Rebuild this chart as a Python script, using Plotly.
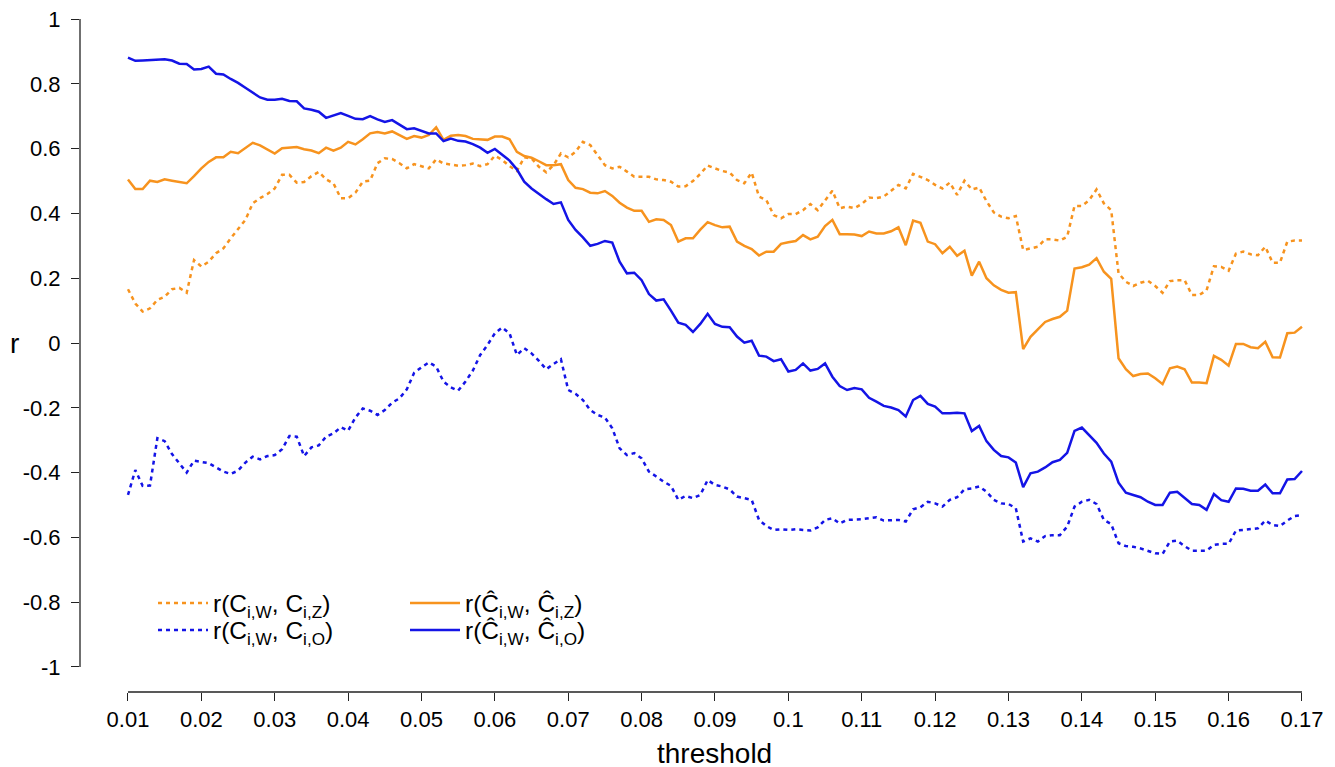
import numpy as np
import plotly.graph_objects as go

threshold = [round(0.010 + 0.001 * i, 3) for i in range(161)]

r_hat_wz = [
    0.505, 0.475, 0.475, 0.501, 0.497, 0.505, 0.501, 0.497, 0.493, 0.515,
    0.539, 0.559, 0.573, 0.573, 0.590, 0.586, 0.601, 0.618, 0.610, 0.598,
    0.585, 0.601, 0.603, 0.605, 0.598, 0.594, 0.586, 0.603, 0.594, 0.603,
    0.621, 0.613, 0.629, 0.647, 0.651, 0.647, 0.653, 0.642, 0.630, 0.639,
    0.634, 0.642, 0.666, 0.627, 0.640, 0.642, 0.639, 0.630, 0.629, 0.627,
    0.637, 0.637, 0.629, 0.590, 0.577, 0.572, 0.561, 0.549, 0.549, 0.552,
    0.503, 0.479, 0.475, 0.464, 0.462, 0.469, 0.454, 0.433, 0.418, 0.408,
    0.408, 0.374, 0.382, 0.380, 0.364, 0.313, 0.323, 0.323, 0.350, 0.373,
    0.364, 0.357, 0.359, 0.313, 0.300, 0.290, 0.270, 0.282, 0.282, 0.306,
    0.311, 0.315, 0.333, 0.320, 0.328, 0.361, 0.380, 0.336, 0.336, 0.335,
    0.330, 0.344, 0.338, 0.338, 0.345, 0.357, 0.302, 0.378, 0.371, 0.313,
    0.305, 0.277, 0.297, 0.269, 0.285, 0.208, 0.251, 0.200, 0.178, 0.164,
    0.155, 0.157, -0.019, 0.019, 0.042, 0.065, 0.074, 0.081, 0.100, 0.230,
    0.234, 0.242, 0.262, 0.220, 0.198, -0.047, -0.081, -0.102, -0.096, -0.094,
    -0.109, -0.127, -0.078, -0.073, -0.081, -0.122, -0.122, -0.124, -0.040, -0.052,
    -0.070, -0.003, -0.003, -0.013, -0.016, 0.004, -0.044, -0.045, 0.030, 0.032,
    0.050,
]

r_wz = [
    0.166, 0.122, 0.097, 0.107, 0.133, 0.143, 0.166, 0.170, 0.155, 0.256,
    0.236, 0.251, 0.277, 0.292, 0.323, 0.351, 0.380, 0.431, 0.447, 0.460,
    0.477, 0.519, 0.519, 0.495, 0.497, 0.515, 0.528, 0.505, 0.493, 0.447,
    0.447, 0.464, 0.498, 0.501, 0.555, 0.570, 0.568, 0.555, 0.539, 0.552,
    0.545, 0.539, 0.567, 0.554, 0.551, 0.547, 0.549, 0.554, 0.546, 0.552,
    0.578, 0.565, 0.546, 0.531, 0.573, 0.570, 0.544, 0.527, 0.549, 0.585,
    0.573, 0.590, 0.621, 0.611, 0.580, 0.549, 0.539, 0.544, 0.529, 0.513,
    0.513, 0.513, 0.505, 0.503, 0.498, 0.483, 0.484, 0.500, 0.522, 0.548,
    0.539, 0.531, 0.526, 0.503, 0.493, 0.526, 0.452, 0.441, 0.395, 0.385,
    0.398, 0.398, 0.410, 0.429, 0.410, 0.441, 0.470, 0.416, 0.421, 0.416,
    0.429, 0.449, 0.447, 0.452, 0.470, 0.488, 0.477, 0.522, 0.513, 0.503,
    0.488, 0.477, 0.495, 0.457, 0.501, 0.474, 0.480, 0.438, 0.403, 0.390,
    0.385, 0.392, 0.287, 0.292, 0.297, 0.320, 0.320, 0.316, 0.328, 0.423,
    0.423, 0.441, 0.474, 0.431, 0.410, 0.215, 0.189, 0.176, 0.186, 0.192,
    0.176, 0.155, 0.191, 0.194, 0.194, 0.148, 0.148, 0.163, 0.237, 0.235,
    0.223, 0.276, 0.282, 0.274, 0.271, 0.297, 0.248, 0.248, 0.313, 0.316,
    0.316,
]

r_wo = [
    -0.469, -0.392, -0.441, -0.440, -0.294, -0.303, -0.343, -0.371, -0.400, -0.363,
    -0.368, -0.371, -0.384, -0.397, -0.404, -0.394, -0.369, -0.351, -0.359, -0.349,
    -0.346, -0.328, -0.287, -0.289, -0.349, -0.322, -0.316, -0.289, -0.279, -0.260,
    -0.271, -0.230, -0.202, -0.209, -0.222, -0.207, -0.184, -0.171, -0.143, -0.092,
    -0.075, -0.060, -0.073, -0.119, -0.137, -0.147, -0.119, -0.085, -0.037, -0.006,
    0.030, 0.048, 0.030, -0.037, -0.016, -0.032, -0.055, -0.081, -0.065, -0.050,
    -0.145, -0.157, -0.176, -0.207, -0.222, -0.230, -0.263, -0.325, -0.346, -0.340,
    -0.356, -0.397, -0.412, -0.428, -0.441, -0.484, -0.472, -0.479, -0.469, -0.423,
    -0.438, -0.443, -0.452, -0.474, -0.479, -0.484, -0.546, -0.565, -0.577, -0.575,
    -0.577, -0.575, -0.577, -0.579, -0.569, -0.546, -0.541, -0.557, -0.546, -0.546,
    -0.544, -0.541, -0.538, -0.548, -0.548, -0.546, -0.551, -0.513, -0.507, -0.490,
    -0.495, -0.505, -0.484, -0.476, -0.452, -0.449, -0.443, -0.459, -0.484, -0.495,
    -0.497, -0.510, -0.613, -0.603, -0.613, -0.596, -0.593, -0.593, -0.567, -0.505,
    -0.490, -0.484, -0.497, -0.546, -0.559, -0.618, -0.627, -0.629, -0.634, -0.641,
    -0.649, -0.651, -0.613, -0.610, -0.627, -0.641, -0.641, -0.641, -0.623, -0.620,
    -0.620, -0.579, -0.577, -0.575, -0.572, -0.548, -0.562, -0.565, -0.548, -0.534,
    -0.531,
]

r_hat_wo = [
    0.881, 0.871, 0.872, 0.873, 0.875, 0.876, 0.872, 0.862, 0.861, 0.844,
    0.846, 0.853, 0.831, 0.829, 0.815, 0.803, 0.788, 0.773, 0.758, 0.751,
    0.751, 0.754, 0.747, 0.746, 0.724, 0.720, 0.714, 0.695, 0.703, 0.710,
    0.701, 0.692, 0.691, 0.700, 0.690, 0.682, 0.688, 0.673, 0.660, 0.663,
    0.654, 0.647, 0.647, 0.623, 0.631, 0.624, 0.622, 0.614, 0.603, 0.587,
    0.599, 0.582, 0.563, 0.536, 0.498, 0.477, 0.460, 0.444, 0.429, 0.434,
    0.380, 0.349, 0.326, 0.300, 0.306, 0.315, 0.310, 0.251, 0.215, 0.217,
    0.194, 0.151, 0.131, 0.135, 0.100, 0.063, 0.056, 0.034, 0.059, 0.090,
    0.059, 0.050, 0.049, 0.020, 0.001, 0.007, -0.039, -0.042, -0.056, -0.050,
    -0.088, -0.083, -0.063, -0.085, -0.080, -0.063, -0.104, -0.133, -0.145, -0.139,
    -0.143, -0.169, -0.181, -0.194, -0.199, -0.207, -0.227, -0.176, -0.163, -0.188,
    -0.196, -0.217, -0.217, -0.215, -0.217, -0.272, -0.256, -0.303, -0.330, -0.349,
    -0.353, -0.369, -0.445, -0.402, -0.397, -0.384, -0.368, -0.361, -0.339, -0.271,
    -0.261, -0.284, -0.308, -0.341, -0.366, -0.431, -0.462, -0.469, -0.476, -0.490,
    -0.500, -0.500, -0.462, -0.459, -0.479, -0.497, -0.500, -0.515, -0.466, -0.485,
    -0.490, -0.449, -0.450, -0.456, -0.456, -0.437, -0.464, -0.464, -0.421, -0.420,
    -0.395,
]

x_ticks = [0.01, 0.02, 0.03, 0.04, 0.05, 0.06, 0.07, 0.08, 0.09, 0.10,
           0.11, 0.12, 0.13, 0.14, 0.15, 0.16, 0.17]
x_tick_labels = ["0.01", "0.02", "0.03", "0.04", "0.05", "0.06", "0.07", "0.08",
                 "0.09", "0.1", "0.11", "0.12", "0.13", "0.14", "0.15", "0.16", "0.17"]
y_ticks = [-1, -0.8, -0.6, -0.4, -0.2, 0, 0.2, 0.4, 0.6, 0.8, 1]
y_tick_labels = ["-1", "-0.8", "-0.6", "-0.4", "-0.2", "0", "0.2", "0.4", "0.6", "0.8", "1"]

ORANGE = "#F7931E"
BLUE = "#1414E6"
FONT = "Liberation Sans, Arial, sans-serif"
DOT = "4px,4px"

# figure geometry (the page adds an 8px body margin on the left/top)
W, H = 1327, 759
ML, MB = 72, 75
PW, PH = W - ML, H - MB


def px_x(fx):
    return (fx - ML) / PW


def px_y(fy):
    return (PH - fy) / PH


fig = go.Figure()
fig.add_trace(go.Scatter(x=threshold, y=r_wz, mode="lines",
                         name="r(C<sub>i,W</sub>, C<sub>i,Z</sub>)",
                         line=dict(color=ORANGE, width=2.5, dash=DOT), legend="legend"))
fig.add_trace(go.Scatter(x=threshold, y=r_wo, mode="lines",
                         name="r(C<sub>i,W</sub>, C<sub>i,O</sub>)",
                         line=dict(color=BLUE, width=2.5, dash=DOT), legend="legend2"))
fig.add_trace(go.Scatter(x=threshold, y=r_hat_wz, mode="lines",
                         name="r(Ĉ<sub>i,W</sub>, Ĉ<sub>i,Z</sub>)",
                         line=dict(color=ORANGE, width=2.5), legend="legend3"))
fig.add_trace(go.Scatter(x=threshold, y=r_hat_wo, mode="lines",
                         name="r(Ĉ<sub>i,W</sub>, Ĉ<sub>i,O</sub>)",
                         line=dict(color=BLUE, width=2.5), legend="legend4"))

legend_common = dict(
    orientation="v", xanchor="left", yanchor="middle",
    font=dict(family=FONT, size=24.5, color="black"),
    bgcolor="rgba(0,0,0,0)", borderwidth=0, itemwidth=50,
    tracegroupgap=0,
)
ROW1, ROW2 = 595, 622
COL1, COL2 = 145, 397

fig.update_layout(
    width=W, height=H,
    margin=dict(l=ML, r=0, t=0, b=MB),
    paper_bgcolor="white", plot_bgcolor="white",
    font=dict(family=FONT, size=22, color="black"),
    showlegend=True,
    legend=dict(x=px_x(COL1), y=px_y(ROW1), **legend_common),
    legend2=dict(x=px_x(COL1), y=px_y(ROW2), **legend_common),
    legend3=dict(x=px_x(COL2), y=px_y(ROW1), **legend_common),
    legend4=dict(x=px_x(COL2), y=px_y(ROW2), **legend_common),
    xaxis=dict(
        range=[0.00346, 0.1745], tickvals=x_ticks, ticktext=x_tick_labels,
        ticks="outside", ticklen=8, tickwidth=1.3, tickcolor="#222",
        showgrid=False, zeroline=False, showline=False,
        tickfont=dict(family=FONT, size=22, color="black"),
        ticklabeloverflow="allow",
    ),
    yaxis=dict(
        range=[-1.0772, 1.034], tickvals=y_ticks, ticktext=y_tick_labels,
        ticks="outside", ticklen=8, tickwidth=1.3, tickcolor="#222",
        showgrid=False, zeroline=False, showline=False,
        tickfont=dict(family=FONT, size=22, color="black"),
        ticklabelstandoff=6, ticklabeloverflow="allow",
    ),
    shapes=[
        dict(type="line", xref="x", yref="paper", x0=0.01, x1=0.17, y0=0, y1=0,
             line=dict(color="#222", width=1.3)),
        dict(type="line", xref="paper", yref="y", x0=0, x1=0, y0=-1, y1=1,
             line=dict(color="#222", width=1.3)),
    ],
    annotations=[
        dict(text="threshold", xref="x", yref="paper", x=0.09, y=px_y(745),
             yanchor="middle", xanchor="center", showarrow=False,
             font=dict(family=FONT, size=28, color="black")),
        dict(text="r", xref="paper", yref="y", x=px_x(6), y=0,
             xanchor="center", yanchor="middle", showarrow=False,
             font=dict(family=FONT, size=28, color="black")),
    ],
)

fig.write_html("out.html")
